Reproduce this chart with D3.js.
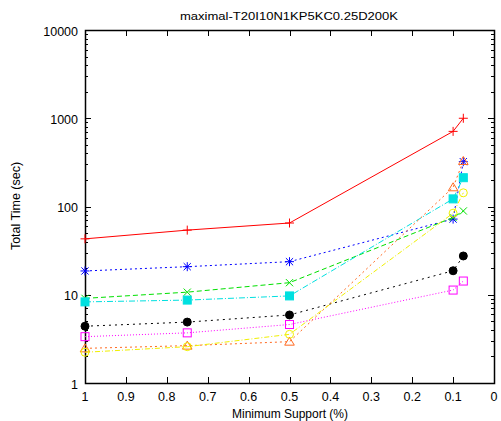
<!DOCTYPE html>
<html><head><meta charset="utf-8">
<script src="https://cdn.jsdelivr.net/npm/d3@7"></script>
<style>body{margin:0;background:#fff}svg{display:block}text{font-family:"Liberation Sans",Arial,sans-serif;fill:#000}</style>
</head><body>
<svg id="c" width="501" height="421"></svg>
<script>
const supports = [1, 0.75, 0.5, 0.1, 0.075];
const xTicks = [1, 0.9, 0.8, 0.7, 0.6, 0.5, 0.4, 0.3, 0.2, 0.1, 0];
const yTicks = [1, 10, 100, 1000, 10000];
const redPlus = [43, 54, 65, 710, 1000];
const blueStar = [18.6, 20.8, 23.7, 72, 322];
const greenX = [9.1, 10.7, 13.7, 75, 89];
const cyanSquare = [8.3, 8.7, 9.7, 122, 212];
const blackCircle = [4.4, 4.9, 5.9, 18.7, 27.5];
const magentaBox = [3.35, 3.7, 4.6, 11.3, 14.3];
const orangeTri = [2.47, 2.65, 2.94, 165, 328];
const yellowCircle = [2.23, 2.58, 3.56, 84, 143];

const series = [
  {v: redPlus, color: "#ff0000", dash: null, sym: "plus"},
  {v: blueStar, color: "#0000ff", dash: "2,3", sym: "star"},
  {v: greenX, color: "#00e000", dash: "5,3", sym: "cross"},
  {v: cyanSquare, color: "#00e0e0", dash: "6,2,1,2", sym: "fsquare"},
  {v: blackCircle, color: "#000000", dash: "2,4", sym: "fcircle"},
  {v: magentaBox, color: "#ff00ff", dash: "1,2", sym: "box"},
  {v: orangeTri, color: "#ff6a20", dash: "2,3", sym: "tri"},
  {v: yellowCircle, color: "#f0f000", dash: "5,2,1,2", sym: "circle"}
];

const svg = d3.select("#c");
const L = 85, R = 494, T = 30, B = 383;
const x = d3.scaleLinear().domain([1, 0]).range([L, R]);
const y = d3.scaleLog().domain([1, 10000]).range([B, T]);

// ticks
const g = svg.append("g").attr("stroke", "#000").attr("stroke-width", 1);
xTicks.forEach(t => {
  const px = Math.round(x(t)) + 0.5;
  g.append("line").attr("x1", px).attr("x2", px).attr("y1", B).attr("y2", B - 6);
  g.append("line").attr("x1", px).attr("x2", px).attr("y1", T).attr("y2", T + 6);
});
for (let d = 0; d < 4; d++) {
  for (let m = 2; m <= 9; m++) {
    const py = Math.round(y(m * Math.pow(10, d))) + 0.5;
    g.append("line").attr("x1", L).attr("x2", L + 3).attr("y1", py).attr("y2", py);
    g.append("line").attr("x1", R).attr("x2", R - 3).attr("y1", py).attr("y2", py);
  }
}
yTicks.forEach(t => {
  const py = Math.round(y(t)) + 0.5;
  g.append("line").attr("x1", L).attr("x2", L + 6).attr("y1", py).attr("y2", py);
  g.append("line").attr("x1", R).attr("x2", R - 6).attr("y1", py).attr("y2", py);
});
svg.append("rect").attr("x", L + 0.5).attr("y", T + 0.5).attr("width", R - L).attr("height", B - T)
  .attr("fill", "none").attr("stroke", "#000").attr("stroke-width", 1.5);

// tick labels
yTicks.forEach(t => {
  svg.append("text").attr("x", L - 7).attr("y", y(t) + 5.5).attr("text-anchor", "end")
    .attr("font-size", 12.5).text(t);
});
xTicks.forEach(t => {
  svg.append("text").attr("x", x(t)).attr("y", B + 18).attr("text-anchor", "middle")
    .attr("font-size", 12.5).text(t);
});
svg.append("text").attr("x", 290).attr("y", 418).attr("text-anchor", "middle")
  .attr("font-size", 12).text("Minimum Support (%)");
svg.append("text").attr("transform", "translate(19.5,206) rotate(-90)").attr("text-anchor", "middle")
  .attr("font-size", 12.5).text("Total Time (sec)");
svg.append("text").attr("x", 289).attr("y", 20).attr("text-anchor", "middle")
  .attr("font-size", 10.5).attr("textLength", 218).attr("lengthAdjust", "spacingAndGlyphs")
  .text("maximal-T20I10N1KP5KC0.25D200K");

// series
const line = d3.line().x(d => x(d[0])).y(d => y(d[1]));
series.forEach(s => {
  const pts = supports.map((k, i) => [k, s.v[i]]);
  svg.append("path").attr("d", line(pts)).attr("fill", "none").attr("stroke", s.color)
    .attr("stroke-width", 1).attr("stroke-dasharray", s.dash);
  pts.forEach(p => {
    const cx = x(p[0]), cy = y(p[1]);
    const m = svg.append("g").attr("transform", `translate(${cx},${cy})`)
      .attr("stroke", s.color).attr("fill", "none").attr("stroke-width", 1);
    const r = 4.5;
    if (s.sym === "plus" || s.sym === "star") {
      m.append("line").attr("x1", -r).attr("x2", r).attr("y1", 0).attr("y2", 0);
      m.append("line").attr("x1", 0).attr("x2", 0).attr("y1", -r).attr("y2", r);
    }
    if (s.sym === "cross" || s.sym === "star") {
      const q = 3.6;
      m.append("line").attr("x1", -q).attr("x2", q).attr("y1", -q).attr("y2", q);
      m.append("line").attr("x1", -q).attr("x2", q).attr("y1", q).attr("y2", -q);
    }
    if (s.sym === "fsquare") m.append("rect").attr("x", -4).attr("y", -4).attr("width", 8).attr("height", 8).attr("fill", s.color);
    if (s.sym === "box") m.append("rect").attr("x", -4).attr("y", -4).attr("width", 8).attr("height", 8);
    if (s.sym === "fcircle") m.append("circle").attr("r", 4).attr("fill", s.color);
    if (s.sym === "circle") m.append("circle").attr("r", 4);
    if (s.sym === "tri") m.append("path").attr("d", "M0,-4.5L4.8,3.5L-4.8,3.5Z");
  });
});
</script>
</body></html>
